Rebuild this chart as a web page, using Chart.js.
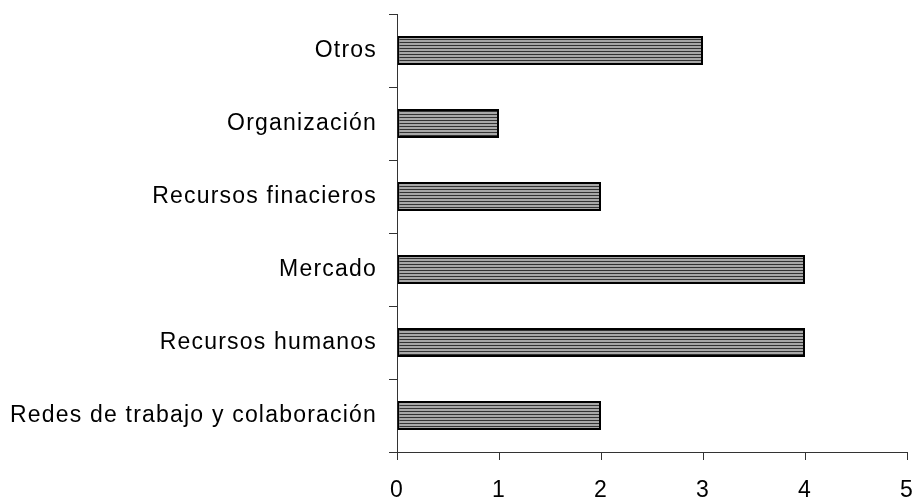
<!DOCTYPE html>
<html>
<head>
<meta charset="utf-8">
<script src="https://cdn.jsdelivr.net/npm/chart.js@4/dist/chart.umd.min.js"></script>
<style>
html,body{margin:0;padding:0;background:#fff;}
#wrap{width:916px;height:498px;}
</style>
</head>
<body>
<div id="wrap"><canvas id="c" width="916" height="498"></canvas></div>
<script>
const categories = ["Otros","Organización","Recursos finacieros","Mercado","Recursos humanos","Redes de trabajo y colaboración"];
const values = [3,1,2,4,4,2];
const xTicks = [0,1,2,3,4,5];

const pc = document.createElement('canvas');
pc.width = 4; pc.height = 3;
const pctx = pc.getContext('2d');
pctx.fillStyle = '#a8a8a8'; pctx.fillRect(0,0,4,3);
pctx.fillStyle = '#333333'; pctx.fillRect(0,0,4,1);
const ctx = document.getElementById('c').getContext('2d');
const pattern = ctx.createPattern(pc,'repeat');

const spacing = {
  id: 'spacing',
  beforeDraw(chart) { chart.ctx.letterSpacing = '1.2px'; }
};

new Chart(ctx, {
  type: 'bar',
  data: {
    labels: categories,
    datasets: [{
      data: values,
      backgroundColor: pattern,
      borderColor: '#000',
      borderWidth: 2,
      borderSkipped: false,
      categoryPercentage: 1,
      barPercentage: 0.4
    }]
  },
  plugins: [spacing],
  options: {
    indexAxis: 'y',
    responsive: false,
    animation: false,
    devicePixelRatio: 1,
    layout: { padding: { top: 14, right: 9, left: 0, bottom: 0 } },
    plugins: { legend: { display: false }, tooltip: { enabled: false } },
    scales: {
      x: {
        min: 0, max: 5,
        afterBuildTicks: s => { s.ticks = xTicks.map(v => ({ value: v })); },
        afterFit: s => { s.height = 46; s.paddingLeft = 0; s.paddingRight = 0; },
        border: { display: true, color: '#333', width: 1 },
        grid: { drawOnChartArea: false, drawTicks: true, tickLength: 8, color: '#333' },
        ticks: { color: '#000', font: { family: 'Liberation Sans, Arial', size: 23 }, padding: 17, maxRotation: 0 }
      },
      y: {
        afterFit: s => { s.width = 397; s.paddingTop = 0; s.paddingBottom = 0; },
        border: { display: true, color: '#333', width: 1 },
        grid: { drawOnChartArea: false, drawTicks: true, tickLength: 8, color: '#333', offset: true },
        ticks: { color: '#000', font: { family: 'Liberation Sans, Arial', size: 23 }, padding: 12 }
      }
    }
  }
});
</script>
</body>
</html>
